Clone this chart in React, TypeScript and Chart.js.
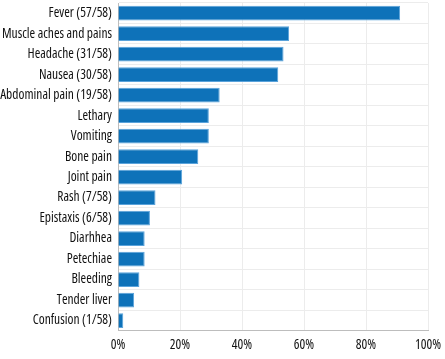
import React, { useEffect, useRef } from "react";
import { Chart, registerables } from "chart.js";

Chart.register(...registerables);

const categories = [
  "Fever (57/58)",
  "Muscle aches and pains",
  "Headache (31/58)",
  "Nausea (30/58)",
  "Abdominal pain (19/58)",
  "Lethary",
  "Vomiting",
  "Bone pain",
  "Joint pain",
  "Rash (7/58)",
  "Epistaxis (6/58)",
  "Diarhhea",
  "Petechiae",
  "Bleeding",
  "Tender liver",
  "Confusion (1/58)",
];

const percentValues = [91, 55.2, 53.4, 51.7, 32.8, 29.3, 29.3, 25.9, 20.7, 12.1, 10.3, 8.6, 8.6, 6.9, 5.2, 1.7];

const xTicks = [0, 20, 40, 60, 80, 100];

const FONT = "'Open Sans', sans-serif";
const tickFont = { family: FONT, size: 13.5, weight: "condensed" as any };

export default function App() {
  const ref = useRef<HTMLCanvasElement | null>(null);

  useEffect(() => {
    if (!ref.current) return;
    const chart = new Chart(ref.current, {
      type: "bar",
      data: {
        labels: categories,
        datasets: [
          {
            data: percentValues,
            backgroundColor: "#0e72b9",
            borderColor: "#5aa3db",
            borderWidth: 1,
            borderSkipped: "left",
            categoryPercentage: 0.72,
            barPercentage: 1,
          },
        ],
      },
      options: {
        indexAxis: "y",
        animation: false,
        responsive: true,
        maintainAspectRatio: false,
        layout: { padding: { top: 3, right: 17, left: 0, bottom: 0 } },
        plugins: { legend: { display: false }, tooltip: { enabled: false } },
        scales: {
          x: {
            min: 0,
            max: 100,
            afterBuildTicks: (scale: any) => {
              scale.ticks = xTicks.map((v) => ({ value: v }));
            },
            afterFit: (scale: any) => {
              scale.paddingRight = 0;
              scale.paddingLeft = 0;
            },
            ticks: {
              callback: (v: any) => v + "%",
              color: "#111",
              font: tickFont,
              padding: 6,
              maxRotation: 0,
            },
            grid: { color: "#ececec", drawTicks: false },
            border: { color: "#bdbdbd" },
          },
          y: {
            afterFit: (scale: any) => {
              scale.width = 118;
              scale.paddingTop = 0;
              scale.paddingBottom = 0;
            },
            ticks: {
              color: "#111",
              font: tickFont,
              padding: 6,
              autoSkip: false,
            },
            grid: { color: "#ececec", drawTicks: false, offset: true },
            border: { color: "#bdbdbd" },
          },
        },
      },
    });
    return () => chart.destroy();
  }, []);

  return (
    <div style={{ position: "fixed", left: 0, top: 0, width: 445, height: 359 }}>
      <canvas ref={ref} />
    </div>
  );
}
